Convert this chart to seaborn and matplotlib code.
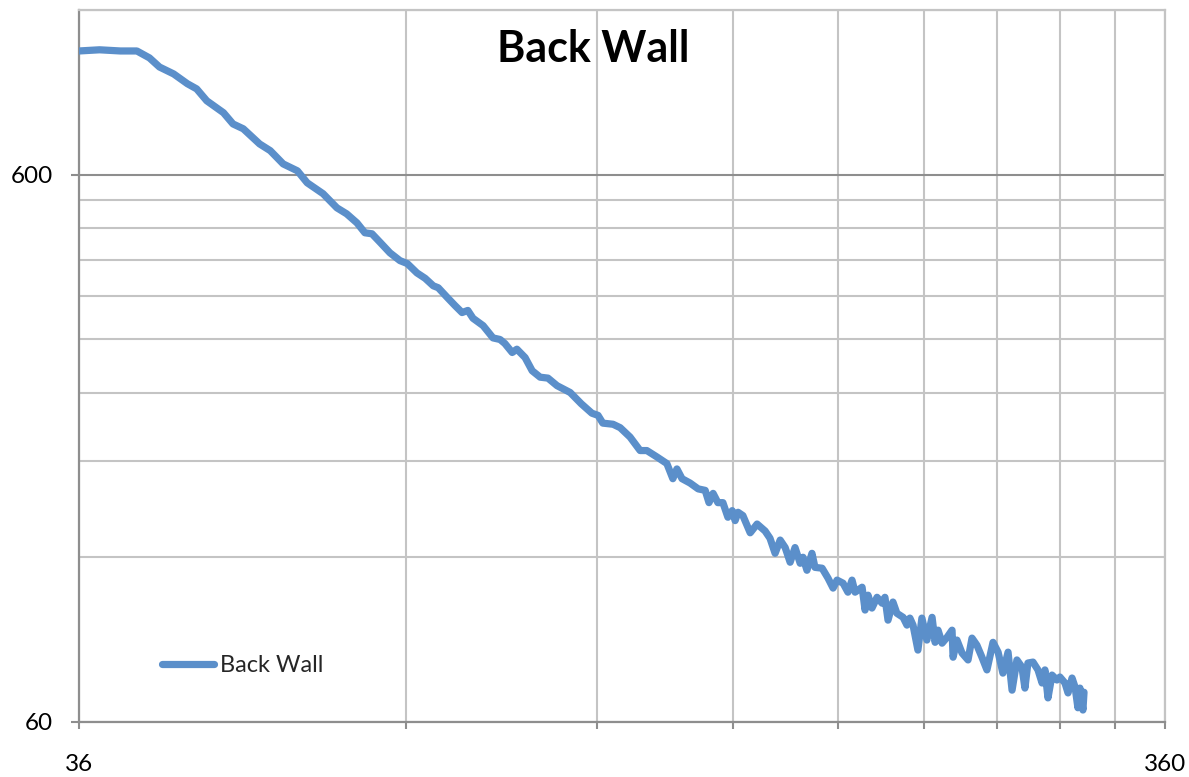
import matplotlib
matplotlib.use("Agg")
import matplotlib.pyplot as plt
import seaborn as sns
import pandas as pd
from matplotlib.ticker import FixedLocator, FixedFormatter, NullFormatter

# Frequency (Hz) and measured level for the back wall
freq = [
    36.0, 37.6, 39.3, 40.7, 41.8, 42.7, 44.0, 45.3, 46.2, 47.2,
    48.9, 49.9, 51.0, 52.8, 54.0, 55.5, 57.2, 58.4, 60.4, 62.2,
    63.5, 64.9, 66.0, 67.0, 68.2, 69.6, 71.1, 72.2, 73.7, 75.0,
    76.3, 77.1, 78.6, 79.9, 81.1, 82.1, 83.0, 84.8, 86.6, 87.9,
    88.8, 90.2, 91.1, 92.7, 94.1, 95.7, 97.3, 99.2, 102.0, 104.4,
    106.8, 108.2, 109.3, 111.7, 113.4, 115.8, 118.3, 120.0, 122.6, 125.2,
    126.8, 127.9, 129.3, 131.5, 133.8, 135.8, 136.9, 138.1, 139.5, 141.0,
    142.5, 143.8, 144.7, 145.6, 147.1, 149.4, 151.6, 154.2, 155.8, 157.5,
    159.2, 160.9, 162.6, 164.3, 166.1, 167.1, 168.5, 170.3, 171.4, 174.0,
    176.2, 178.1, 179.6, 181.9, 183.8, 185.4, 186.6, 189.4, 190.6, 191.8,
    193.4, 195.5, 197.6, 198.8, 200.1, 202.2, 203.9, 206.6, 208.3, 209.6,
    211.0, 213.2, 215.0, 217.3, 219.7, 221.1, 222.5, 224.4, 226.8, 229.2,
    229.7, 231.6, 234.1, 237.1, 239.1, 241.6, 244.2, 246.8, 250.0, 252.7,
    255.3, 258.1, 260.3, 263.0, 265.8, 267.5, 269.2, 272.1, 275.0, 277.4,
    279.1, 280.9, 283.3, 286.3, 288.1, 291.2, 293.1, 295.6, 297.5, 299.3,
    300.6, 302.5, 303.2,
]
level = [
    1010, 1015, 1010, 1010, 981, 944, 917, 880, 861, 819,
    779, 743, 728, 683, 664, 628, 610, 580, 554, 522,
    509, 490, 470, 468, 451, 432, 418, 413, 397, 388,
    376, 373, 358, 346, 336, 339, 328, 318, 302, 300,
    295, 284, 288, 278, 263, 256, 255, 247, 240, 229,
    220, 218, 211, 210, 207, 199, 188, 188, 183, 178,
    167, 174, 167, 164, 160, 159, 151, 157, 151, 151,
    142, 146, 140, 145, 143, 133, 138, 134, 130, 122,
    129, 125, 117.5, 125, 117, 120, 113.6, 122, 115, 114.6,
    109.9, 105.4, 109, 107.6, 103.6, 109, 103.6, 105.8, 96.1, 102.3,
    96.9, 101.4, 98.9, 101.4, 92.1, 99.4, 94.8, 93.2, 90.2, 92.9,
    90.2, 81.2, 92.9, 84.7, 93.2, 83.9, 88.3, 83.6, 85.7, 88.3,
    78.8, 84.7, 80.2, 77.9, 85.4, 82.9, 78.8, 74.7, 83.9, 80.5,
    73.7, 80.5, 68.6, 77.9, 75.6, 69.2, 76.9, 77.2, 74.7, 70.7,
    74.7, 66.4, 73.1, 71.6, 72.5, 70.7, 67.8, 72.2, 69.5, 63.7,
    69.2, 63.1, 68.0,
]

series_name = "Back Wall"
x_ticks = [36, 72, 108, 144, 180, 216, 252, 288, 324, 360]
x_tick_labels = ["36", "", "", "", "", "", "", "", "", "360"]
y_ticks = [60, 600]
y_tick_labels = ["60", "600"]
y_minor = [120, 180, 240, 300, 360, 420, 480, 540, 1200]
x_limits = (36, 360)
y_limits = (60, 1200)

sns.set_theme(style="white")
plt.rcParams["font.family"] = ["Lato", "DejaVu Sans"]

line_color = "#5B8FCA"
grid_light = "#C4C4C4"
grid_dark = "#8E8E8E"

df = pd.DataFrame({"freq": freq, "level": level})

fig = plt.figure(figsize=(11.89, 7.77), dpi=100)
ax = fig.add_axes([79 / 1189, 55 / 777, (1165 - 79) / 1189, (722 - 10) / 777])

sns.lineplot(data=df, x="freq", y="level", ax=ax, color=line_color,
             linewidth=5.2, estimator=None, sort=False, label=series_name,
             solid_capstyle="round", solid_joinstyle="round", zorder=5)

ax.set_xscale("log")
ax.set_yscale("log")
ax.set_xlim(*x_limits)
ax.set_ylim(*y_limits)

ax.xaxis.set_major_locator(FixedLocator(x_ticks))
ax.xaxis.set_major_formatter(FixedFormatter(x_tick_labels))
ax.xaxis.set_minor_locator(FixedLocator([]))
ax.xaxis.set_minor_formatter(NullFormatter())
ax.yaxis.set_major_locator(FixedLocator(y_ticks))
ax.yaxis.set_major_formatter(FixedFormatter(y_tick_labels))
ax.yaxis.set_minor_locator(FixedLocator(y_minor))
ax.yaxis.set_minor_formatter(NullFormatter())

ax.grid(axis="x", which="major", color=grid_light, linewidth=1.5)
ax.grid(axis="y", which="major", color=grid_dark, linewidth=1.5)
ax.grid(axis="y", which="minor", color=grid_light, linewidth=1.5)
ax.set_axisbelow(True)

for side in ("left", "bottom"):
    ax.spines[side].set_color(grid_dark)
    ax.spines[side].set_linewidth(1.6)
for side in ("top", "right"):
    ax.spines[side].set_color(grid_light)
    ax.spines[side].set_linewidth(1.6)

ax.tick_params(axis="x", which="major", direction="out", length=5, width=1.5,
               color=grid_dark, pad=18, labelsize=17.5, labelcolor="black",
               bottom=True)
ax.tick_params(axis="y", which="major", direction="out", length=5.8, width=1.5,
               color=grid_dark, pad=13, labelsize=17.5, labelcolor="black",
               left=True)
ax.tick_params(axis="y", which="minor", length=0)

ax.set_xlabel("")
ax.set_ylabel("")

ax.legend(loc="center left", bbox_to_anchor=(83 / 1086, 56 / 712),
          frameon=False, fontsize=17, handlelength=2.2, handletextpad=0.26,
          borderpad=0, borderaxespad=0)

fig.text(0.499, 0.937, "Back Wall", ha="center", va="center",
         fontsize=31, fontweight="bold", color="black")

fig.savefig("out.png", dpi=100)
